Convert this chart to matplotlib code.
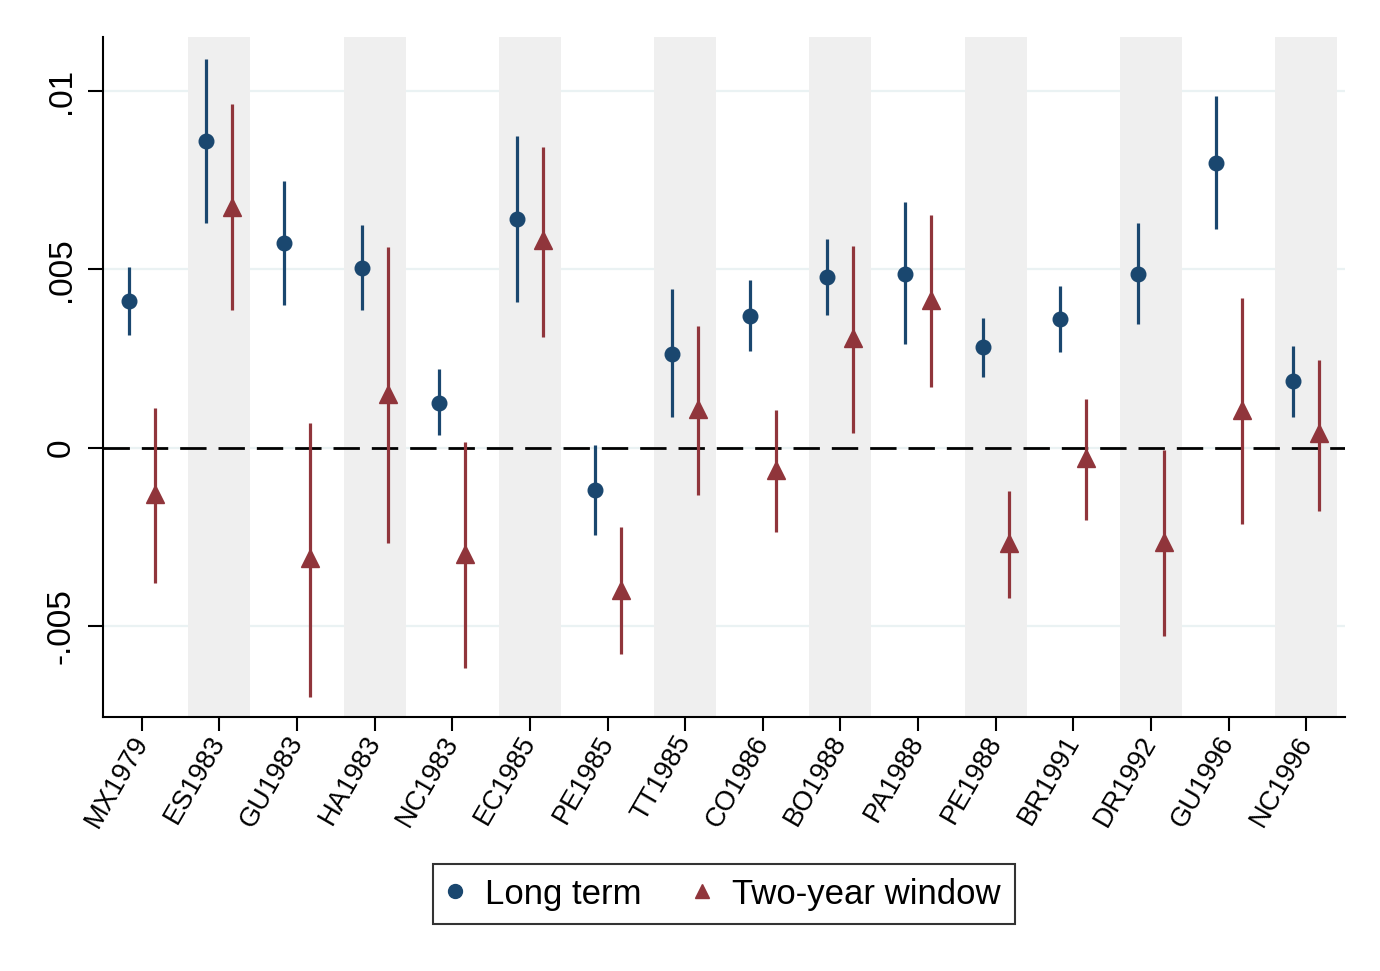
import matplotlib
matplotlib.use("Agg")
import matplotlib.pyplot as plt
import numpy as np

plt.rcParams['font.family'] = ['Liberation Sans', 'DejaVu Sans']

categories = ["MX1979", "ES1983", "GU1983", "HA1983", "NC1983", "EC1985", "PE1985", "TT1985",
              "CO1986", "BO1988", "PA1988", "PE1988", "BR1991", "DR1992", "GU1996", "NC1996"]

long_est = [0.00412, 0.00860, 0.00574, 0.00504, 0.00127, 0.00641, -0.00118, 0.00263,
            0.00370, 0.00479, 0.00487, 0.00283, 0.00361, 0.00487, 0.00798, 0.00188]
long_hi = [0.00507, 0.01090, 0.00748, 0.00625, 0.00221, 0.00874, 0.00008, 0.00445,
           0.00470, 0.00585, 0.00689, 0.00364, 0.00454, 0.00630, 0.00986, 0.00286]
long_lo = [0.00317, 0.00630, 0.00400, 0.00387, 0.00036, 0.00409, -0.00244, 0.00087,
           0.00270, 0.00373, 0.00291, 0.00199, 0.00269, 0.00347, 0.00613, 0.00087]

two_est = [-0.00129, 0.00675, -0.00308, 0.00151, -0.00297, 0.00583, -0.00398, 0.00109,
           -0.00062, 0.00308, 0.00415, -0.00266, -0.00028, -0.00263, 0.00106, 0.00042]
two_hi = [0.00112, 0.00964, 0.00070, 0.00563, 0.00017, 0.00843, -0.00221, 0.00342,
          0.00106, 0.00566, 0.00653, -0.00120, 0.00137, -0.00006, 0.00420, 0.00246]
two_lo = [-0.00378, 0.00387, -0.00697, -0.00266, -0.00616, 0.00311, -0.00577, -0.00132,
          -0.00235, 0.00042, 0.00171, -0.00420, -0.00202, -0.00527, -0.00213, -0.00176]

ytick_vals = [-0.005, 0, 0.005, 0.01]
ytick_labels = ["-.005", "0", ".005", ".01"]

blue = "#1a476f"
red = "#90353b"

fig = plt.figure(figsize=(13.8, 9.71), dpi=100)
ax = fig.add_axes([103/1380, 1-717/971, (1345-103)/1380, (717-37)/971])

x = np.arange(1, len(categories)+1)
off = 0.167

# shaded bands on every other category
for i, xi in enumerate(x):
    if i % 2 == 1:
        ax.axvspan(xi-0.4, xi+0.4, color="#efefef", zorder=1, lw=0)

# grid
for yv in ytick_vals:
    ax.axhline(yv, color="#eaf2f3", lw=1.6, zorder=0.5)

# zero reference line
ax.axhline(0, color="black", lw=2, dashes=(9.5, 4.3), zorder=2)

le = np.array(long_est); lh = np.array(long_hi); ll = np.array(long_lo)
te = np.array(two_est); th = np.array(two_hi); tl = np.array(two_lo)

ax.vlines(x-off, ll, lh, color=blue, lw=2.3, zorder=3)
ax.plot(x-off, le, 'o', color=blue, ms=10.5, zorder=4, label="Long term")
ax.vlines(x+off, tl, th, color=red, lw=2.3, zorder=3)
ax.plot(x+off, te, '^', color=red, ms=13, zorder=4, label="Two-year window")

ax.set_xlim(0.5, 16.5)
ax.set_ylim(-0.00754, 0.01151)

ax.set_xticks(x)
ax.set_xticklabels(categories, rotation=60, ha='right', va='center', rotation_mode='anchor', fontsize=19.5)
ax.set_yticks(ytick_vals)
ax.set_yticklabels(ytick_labels, rotation=90, va='center', fontsize=24)

ax.tick_params(axis='x', length=10, width=1.5, pad=5)
ax.tick_params(axis='y', length=11, width=1.5, pad=8)

for s in ['top', 'right']:
    ax.spines[s].set_visible(False)
for s in ['left', 'bottom']:
    ax.spines[s].set_linewidth(1.5)

leg = fig.legend(loc='center', bbox_to_anchor=(724/1380, 1-894/971), ncol=2, fontsize=25,
                 frameon=True, fancybox=False, edgecolor='black', handletextpad=0.63,
                 columnspacing=1.5, borderpad=0.4, handlelength=0.47)
leg.get_frame().set_linewidth(1.5)
for h in leg.legend_handles:
    h.set_markersize(10)

fig.savefig("out.png", dpi=100, facecolor="white")
